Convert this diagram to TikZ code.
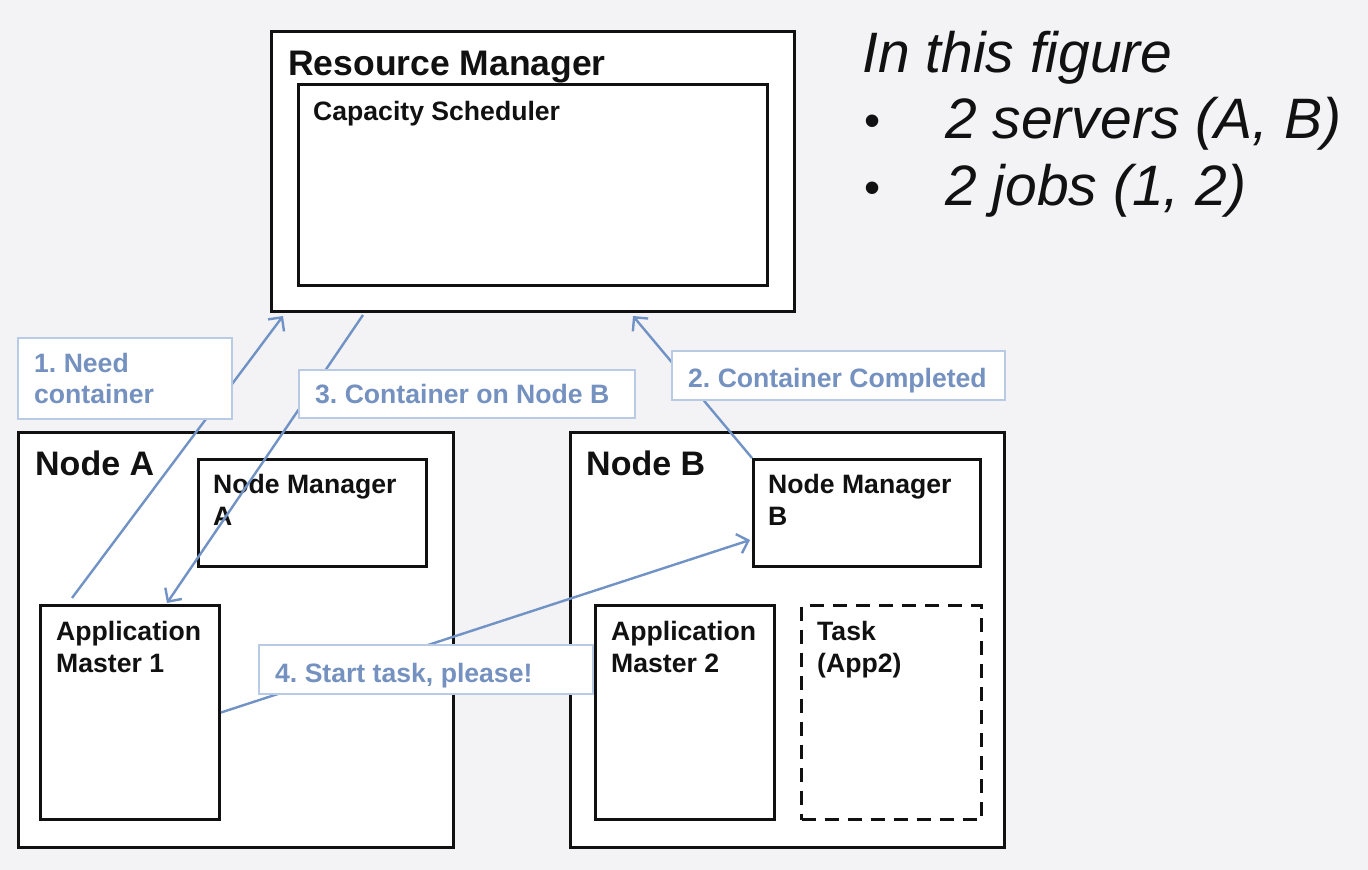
\documentclass[tikz,border=0pt]{standalone}
\usepackage{fontspec}
\setmainfont{Liberation Sans}
\usetikzlibrary{arrows.meta,calc}
\frenchspacing
\definecolor{bg}{RGB}{243,243,245}
\definecolor{arr}{RGB}{112,146,196}
\definecolor{lbltext}{RGB}{116,145,192}
\definecolor{lblborder}{RGB}{185,203,228}
\definecolor{ink}{RGB}{17,17,17}
\tikzset{
  box/.style={draw=ink, line width=3pt, fill=white, anchor=north west, inner sep=0pt},
  dbox/.style={draw=ink, line width=3pt, fill=white, anchor=north west, inner sep=0pt, dash pattern=on 14pt off 9pt},
  lblbox/.style={draw=lblborder, line width=1.5pt, fill=white, anchor=north west, inner sep=0pt},
  btext/.style={anchor=base west, inner sep=0pt, text=ink, font=\bfseries\fontsize{26.6}{32}\selectfont},
  bigtext/.style={anchor=base west, inner sep=0pt, text=ink, font=\bfseries\fontsize{34}{40}\selectfont},
  ltext/.style={anchor=base west, inner sep=0pt, text=lbltext, font=\bfseries\fontsize{26.6}{32}\selectfont},
  itext/.style={anchor=base west, inner sep=0pt, text=ink, font=\itshape\fontsize{57}{66}\selectfont},
  conn/.style={draw=arr, line width=2.4pt},
  tip/.style={-{Straight Barb[length=10pt,width=20pt,line width=2.4pt]}}
}
\begin{document}
\begin{tikzpicture}[x=1pt,y=-1pt]
\fill[bg] (0,0) rectangle (1368,870);
\useasboundingbox (0,0) rectangle (1368,870);

% Resource manager
\node[box, minimum width=523pt, minimum height=280pt] (rm) at (270,30) {};
\node[box, minimum width=469pt, minimum height=201pt] (cs) at (297,83) {};
\node[anchor=base west, inner sep=0pt, text=ink, font=\bfseries\fontsize{35.5}{40}\selectfont] (rmt) at (288,75) {Resource Manager};
\node[btext] (cst) at (313,120) {Capacity Scheduler};

% Node A
\node[box, minimum width=435pt, minimum height=415pt] (nodea) at (17,431) {};
\node[bigtext] (nat) at (35,475) {Node A};
\node[box, minimum width=228pt, minimum height=107pt] (nma) at (197,458) {};
\node[btext] (nmat1) at (213,493) {Node Manager};
\node[btext] (nmat2) at (213,525) {A};
\node[box, minimum width=179pt, minimum height=214pt] (am1) at (39,604) {};
\node[btext] (am1t1) at (56,640) {Application};
\node[btext] (am1t2) at (56,672) {Master 1};

% Node B
\node[box, minimum width=434pt, minimum height=415pt] (nodeb) at (569,431) {};
\node[bigtext] (nbt) at (586,475) {Node B};
\node[box, minimum width=227pt, minimum height=107pt] (nmb) at (752,458) {};
\node[btext] (nmbt1) at (768,493) {Node Manager};
\node[btext] (nmbt2) at (768,525) {B};
\node[box, minimum width=179pt, minimum height=214pt] (am2) at (594,604) {};
\node[btext] (am2t1) at (611,640) {Application};
\node[btext] (am2t2) at (611,672) {Master 2};
\node[dbox, minimum width=180pt, minimum height=214pt] (task) at (800,604) {};
\node[btext] (taskt1) at (817,640) {Task};
\node[btext] (taskt2) at (817,672) {(App2)};

% connectors
\draw[conn, tip] ($(am1.north west)+(33,-6)$) -- ($(rm.south west)+(13,3)$);
\draw[conn, tip] ($(rm.south west)+(93,2)$) -- ($(am1.north west)+(128,-1)$);
\draw[conn, tip] (nmb.north west) -- ($(rm.south west)+(363,3)$);
\draw[conn, tip] (am1.east) -- ($(nmb.south west)+(-2,-28)$);

% labels
\node[lblbox, minimum width=214pt, minimum height=81pt] (l1) at (17,337) {};
\node[ltext] (l1t1) at (34,372) {1. Need};
\node[ltext] (l1t2) at (34,403) {container};
\node[lblbox, minimum width=336pt, minimum height=48pt] (l3) at (298,369) {};
\node[ltext] (l3t) at (315,403) {3. Container on Node B};
\node[lblbox, minimum width=333pt, minimum height=49pt] (l2) at (671,350) {};
\node[ltext] (l2t) at (688,387) {2. Container Completed};
\node[lblbox, minimum width=334pt, minimum height=49pt] (l4) at (258,644) {};
\node[ltext] (l4t) at (275,682) {4. Start task, please!};

% right-hand text
\node[itext] (fig) at (862,72) {In this figure};
\node[itext, font=\fontsize{46}{66}\selectfont] (b1) at (864,136) {\textbullet};
\node[itext] (s1) at (945,138) {2 servers (A, B)};
\node[itext, font=\fontsize{46}{66}\selectfont] (b2) at (864,203) {\textbullet};
\node[itext] (s2) at (945,205) {2 jobs (1, 2)};
\end{tikzpicture}
\end{document}
